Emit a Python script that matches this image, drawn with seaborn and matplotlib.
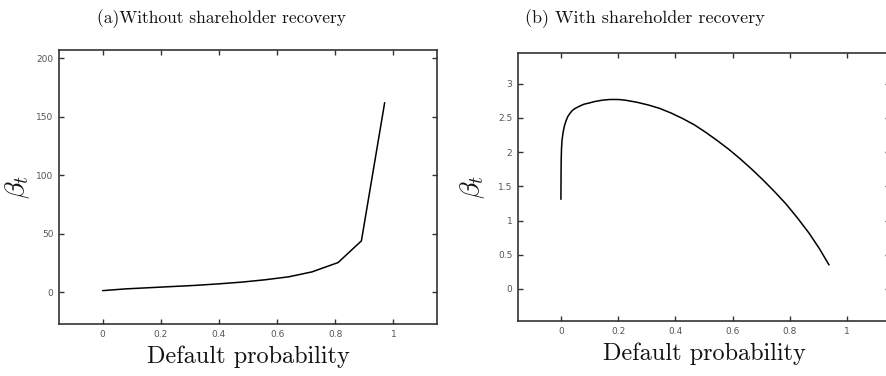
import matplotlib
matplotlib.use("Agg")
import matplotlib.pyplot as plt
import seaborn as sns
import pandas as pd

# ---- data ----
x_without = [0.0, 0.08, 0.16, 0.24, 0.32, 0.40, 0.48, 0.56, 0.64, 0.72, 0.81, 0.89, 0.97]
beta_without = [1.5, 3.0, 4.0, 5.0, 6.0, 7.3, 8.8, 10.8, 13.3, 17.5, 25.5, 44.0, 162.0]

x_with = [0.0, 0.0005, 0.001, 0.002, 0.004, 0.008, 0.012, 0.018, 0.024, 0.032, 0.040,
          0.050, 0.064, 0.080, 0.100, 0.118, 0.145, 0.171, 0.200, 0.225, 0.265, 0.305,
          0.345, 0.386, 0.426, 0.466, 0.506, 0.546, 0.587, 0.627, 0.667, 0.707, 0.747,
          0.787, 0.828, 0.868, 0.903, 0.937]
beta_with = [1.31, 1.70, 1.89, 2.05, 2.18, 2.30, 2.38, 2.46, 2.52, 2.57, 2.61,
             2.64, 2.67, 2.70, 2.72, 2.74, 2.76, 2.77, 2.77, 2.76, 2.73, 2.69,
             2.64, 2.57, 2.49, 2.40, 2.29, 2.17, 2.04, 1.90, 1.75, 1.59, 1.42,
             1.24, 1.03, 0.81, 0.59, 0.35]

xticks = [0, 0.2, 0.4, 0.6, 0.8, 1]
xtick_labels = ["0", "0.2", "0.4", "0.6", "0.8", "1"]
yticks_a = [0, 50, 100, 150, 200]
ytick_labels_a = ["0", "50", "100", "150", "200"]
yticks_b = [0, 0.5, 1, 1.5, 2, 2.5, 3]
ytick_labels_b = ["0", "0.5", "1", "1.5", "2", "2.5", "3"]

title_a = "(a)Without shareholder recovery"
title_b = "(b) With shareholder recovery"
xlabel = "Default probability"
ylabel = r"$\beta_t$"

# ---- style ----
sns.set_style("ticks")
plt.rcParams["mathtext.fontset"] = "cm"
plt.rcParams["font.family"] = ["DejaVu Sans"]

W, H = 887, 376
fig = plt.figure(figsize=(W / 100, H / 100), dpi=100)

ax_a = fig.add_axes([59 / W, (H - 324) / H, 378 / W, 274 / H])
ax_b = fig.add_axes([518 / W, (H - 321) / H, 372 / W, 268 / H])

df_a = pd.DataFrame({"p": x_without, "b": beta_without})
df_b = pd.DataFrame({"p": x_with, "b": beta_with})

sns.lineplot(data=df_a, x="p", y="b", ax=ax_a, color="black", lw=1.1,
             estimator=None, sort=False)
sns.lineplot(data=df_b, x="p", y="b", ax=ax_b, color="black", lw=1.1,
             estimator=None, sort=False)

ax_a.set_xlim(-0.15, 1.15)
ax_a.set_ylim(-27, 207)
ax_b.set_xlim(-0.15, 1.15)
ax_b.set_ylim(-0.47, 3.45)

for ax, yt, ytl, lp in [(ax_a, yticks_a, ytick_labels_a, 3),
                        (ax_b, yticks_b, ytick_labels_b, 8)]:
    ax.set_xticks(xticks)
    ax.set_xticklabels(xtick_labels)
    ax.set_yticks(yt)
    ax.set_yticklabels(ytl)
    ax.tick_params(direction="in", length=3.5, width=1.0, colors="#333333",
                   labelcolor="#555555", labelsize=6.5, top=True, right=True, pad=4)
    for s in ax.spines.values():
        s.set_visible(True)
        s.set_linewidth(1.2)
        s.set_color("#333333")
    ax.set_xlabel(xlabel, family="cmr10", fontsize=17.5, labelpad=5, color="#111111")
    ax.set_ylabel(ylabel, fontsize=20, labelpad=lp, color="#111111")

fig.text(97 / W, (H - 23) / H, title_a, family="cmr10", fontsize=12.5,
         ha="left", va="baseline", color="#111111")
fig.text(525 / W, (H - 23) / H, title_b, family="cmr10", fontsize=13,
         ha="left", va="baseline", color="#111111")

fig.savefig("out.png", dpi=100)
